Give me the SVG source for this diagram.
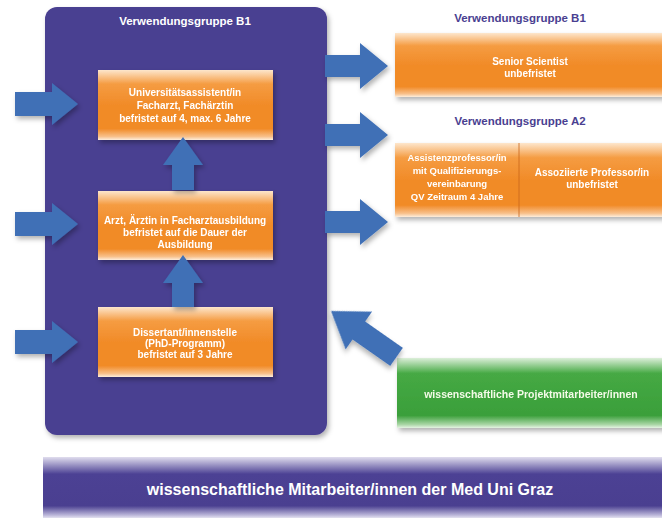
<svg xmlns="http://www.w3.org/2000/svg" width="662" height="520" viewBox="0 0 662 520">
<defs>
<linearGradient id="gOr" x1="0" y1="0" x2="0" y2="1">
<stop offset="0" stop-color="#fde6cc"/>
<stop offset="0.2" stop-color="#f59c42"/>
<stop offset="0.5" stop-color="#f18b28"/>
<stop offset="0.84" stop-color="#f18b28"/>
<stop offset="0.95" stop-color="#f8c08a"/>
<stop offset="1" stop-color="#fdeedd"/>
</linearGradient>
<linearGradient id="gGr" x1="0" y1="0" x2="0" y2="1">
<stop offset="0" stop-color="#dcefd9"/>
<stop offset="0.22" stop-color="#46a944"/>
<stop offset="0.82" stop-color="#3a9f3a"/>
<stop offset="0.95" stop-color="#a9d6a5"/>
<stop offset="1" stop-color="#e5f3e3"/>
</linearGradient>
<linearGradient id="gBar" x1="0" y1="0" x2="0" y2="1">
<stop offset="0" stop-color="#e0ddee"/>
<stop offset="0.28" stop-color="#4c4194"/>
<stop offset="0.8" stop-color="#4a3f90"/>
<stop offset="0.95" stop-color="#b9b4d8"/>
<stop offset="1" stop-color="#e4e2f0"/>
</linearGradient>
<filter id="sh" x="-20%" y="-20%" width="140%" height="150%">
<feDropShadow dx="2" dy="3" stdDeviation="2.5" flood-color="#000" flood-opacity="0.3"/>
</filter>
<style>
.panel{fill:#4a3f91}
.or{fill:url(#gOr)}
.arr{fill:#3f70b6;filter:url(#sh)}
.t{font-family:"Liberation Sans",Arial,sans-serif;font-weight:bold;fill:#fff;text-anchor:middle}
.s{font-size:10px}
.h{font-size:11.5px}
.hp{fill:#4a3f91}
</style>
</defs>
<rect width="662" height="520" fill="#fff"/>

<g id="panel">
<rect x="45" y="7" width="282" height="428" rx="12" class="panel" filter="url(#sh)"/>
<text class="t h" x="185" y="25">Verwendungsgruppe B1</text>
</g>

<g id="box-univ" filter="url(#sh)">
<rect x="98" y="70" width="175" height="70" class="or"/>
<text class="t s" x="185" y="96">Universitätsassistent/in</text>
<text class="t s" x="185" y="109">Facharzt, Fachärztin</text>
<text class="t s" x="185" y="122">befristet auf 4, max. 6 Jahre</text>
</g>

<g id="box-arzt" filter="url(#sh)">
<rect x="98" y="191" width="175" height="69" class="or"/>
<text class="t s" x="185" y="224">Arzt, Ärztin in Facharztausbildung</text>
<text class="t s" x="185" y="236">befristet auf die Dauer der</text>
<text class="t s" x="185" y="248">Ausbildung</text>
</g>

<g id="box-diss" filter="url(#sh)">
<rect x="98" y="307" width="175" height="70" class="or"/>
<text class="t s" x="185" y="336">Dissertant/innenstelle</text>
<text class="t s" x="185" y="347">(PhD-Programm)</text>
<text class="t s" x="185" y="358">befristet auf 3 Jahre</text>
</g>

<g id="title-b1-right">
<text class="t h hp" x="520" y="22">Verwendungsgruppe B1</text>
</g>

<g id="box-senior" filter="url(#sh)">
<rect x="395" y="33" width="270" height="64" class="or"/>
<text class="t s" x="530" y="65">Senior Scientist</text>
<text class="t s" x="530" y="77">unbefristet</text>
</g>

<g id="title-a2">
<text class="t h hp" x="520" y="125">Verwendungsgruppe A2</text>
</g>

<g id="box-a2" filter="url(#sh)">
<rect x="395" y="143" width="270" height="74" class="or"/>
<line x1="519" y1="143" x2="519" y2="217" stroke="#c9661a" stroke-width="0.8"/>
<text class="t" style="font-size:9.5px" x="457" y="161">Assistenzprofessor/in</text>
<text class="t" style="font-size:9.5px" x="457" y="174">mit Qualifizierungs-</text>
<text class="t" style="font-size:9.5px" x="457" y="187">vereinbarung</text>
<text class="t" style="font-size:9.5px" x="457" y="200">QV Zeitraum 4 Jahre</text>
<text class="t s" x="592" y="176">Assoziierte Professor/in</text>
<text class="t s" x="592" y="188">unbefristet</text>
</g>

<g id="box-projekt" filter="url(#sh)">
<rect x="397" y="358" width="268" height="70" fill="url(#gGr)"/>
<text class="t" x="531" y="398" style="font-size:10.5px;fill:#f4fbe8">wissenschaftliche Projektmitarbeiter/innen</text>
</g>

<g id="bar">
<rect x="43" y="457" width="622" height="61" fill="url(#gBar)"/>
<text class="t" x="350" y="495" style="font-size:16px">wissenschaftliche Mitarbeiter/innen der Med Uni Graz</text>
</g>

<g id="connectors">
<polygon class="arr" points="15,92 52,92 52,83 78,104 52,125 52,116 15,116"/>
<polygon class="arr" points="15,212 52,212 52,203 78,224 52,245 52,236 15,236"/>
<polygon class="arr" points="15,330 52,330 52,321 78,342 52,363 52,354 15,354"/>
<polygon class="arr" points="172,190 172,165 163,165 183,137 203,165 194,165 194,190"/>
<polygon class="arr" points="172,307 172,283 163,283 183,255 203,283 194,283 194,307"/>
<polygon class="arr" points="325,55 360,55 360,43 388,66 360,89 360,77 325,77"/>
<polygon class="arr" points="325,124 360,124 360,112 388,135 360,158 360,146 325,146"/>
<polygon class="arr" points="325,211 360,211 360,199 388,222 360,245 360,233 325,233"/>
<polygon class="arr" transform="translate(331,311) rotate(35)" points="0,0 34,-23 34,-11 80,-11 80,11 34,11 34,23"/>
</g>
</svg>
